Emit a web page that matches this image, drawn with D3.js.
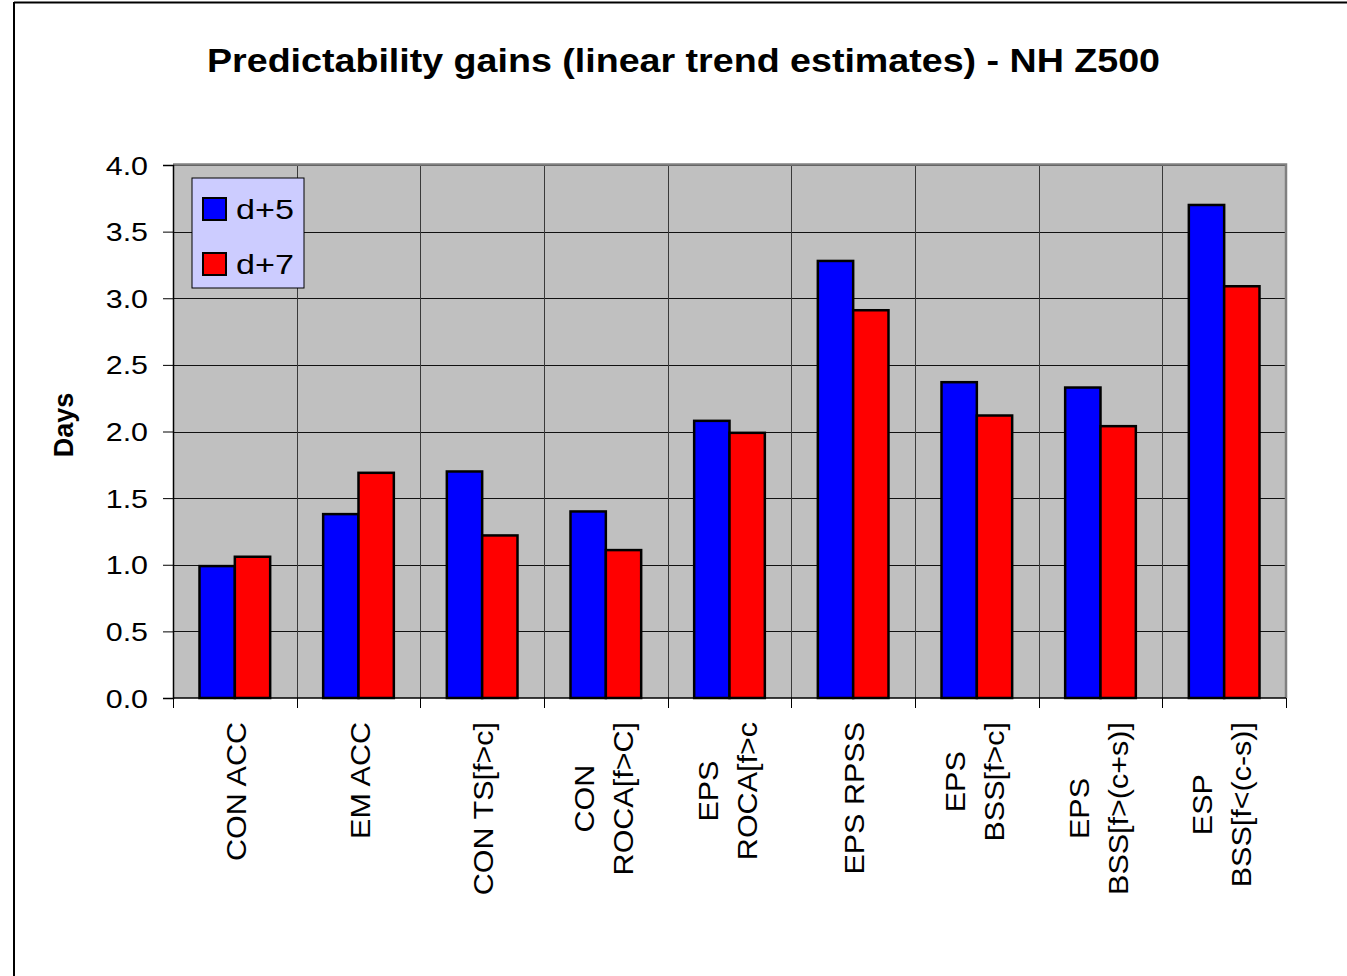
<!DOCTYPE html>
<html>
<head>
<meta charset="utf-8">
<script src="https://cdn.jsdelivr.net/npm/d3@7"></script>
<style>
  body { margin: 0; background: #fff; }
  text { font-family: "Liberation Sans", Arial, sans-serif; }
</style>
</head>
<body>
<div class="chart_wrapper"></div>
<script>
// chart values
var categories = [
  ['CON ACC'],
  ['EM ACC'],
  ['CON TS[f>c]'],
  ['CON', 'ROCA[f>C]'],
  ['EPS', 'ROCA[f>c'],
  ['EPS RPSS'],
  ['EPS', 'BSS[f>c]'],
  ['EPS', 'BSS[f>(c+s)]'],
  ['ESP', 'BSS[f<(c-s)]']
];
var seriesNames = ['d+5', 'd+7'];
var d5 = [0.99, 1.38, 1.70, 1.40, 2.08, 3.28, 2.37, 2.33, 3.70];
var d7 = [1.06, 1.69, 1.22, 1.11, 1.99, 2.91, 2.12, 2.04, 3.09];
var yTicks = [0, 0.5, 1, 1.5, 2, 2.5, 3, 3.5, 4];

var width = 1347;
var height = 976;
var plot = { left: 173, right: 1286, top: 165, bottom: 698 };
var colors = ['#0000ff', '#ff0000'];

var svg = d3.select('.chart_wrapper').append('svg')
  .attr('width', width).attr('height', height);

// outer frame (left + top edges visible)
svg.append('line').attr('x1', 14).attr('x2', 14).attr('y1', 2).attr('y2', height)
  .attr('stroke', '#000').attr('stroke-width', 2);
svg.append('line').attr('x1', 14).attr('x2', width).attr('y1', 2.5).attr('y2', 2.5)
  .attr('stroke', '#000').attr('stroke-width', 2);

svg.append('text')
  .attr('x', 683.5).attr('y', 72)
  .attr('text-anchor', 'middle')
  .attr('font-size', 34).attr('font-weight', 'bold')
  .attr('textLength', 953).attr('lengthAdjust', 'spacingAndGlyphs')
  .text('Predictability gains (linear trend estimates) - NH Z500');

var x = d3.scaleBand().domain(d3.range(categories.length))
  .range([plot.left, plot.right]).padding(0);
var xs = d3.scaleBand().domain(d3.range(seriesNames.length))
  .range([0, x.bandwidth()]).paddingInner(0).paddingOuter(0.75);
var y = d3.scaleLinear().domain([0, 4]).range([plot.bottom, plot.top]);

// plot background
svg.append('rect')
  .attr('x', plot.left).attr('y', plot.top)
  .attr('width', plot.right - plot.left).attr('height', plot.bottom - plot.top)
  .attr('fill', '#c0c0c0');

// gridlines
svg.append('g').selectAll('line').data(yTicks.slice(1)).enter().append('line')
  .attr('x1', plot.left).attr('x2', plot.right)
  .attr('y1', function (d) { return Math.round(y(d)) + 0.5; })
  .attr('y2', function (d) { return Math.round(y(d)) + 0.5; })
  .attr('stroke', '#111').attr('stroke-width', 1);
svg.append('g').selectAll('line').data(d3.range(1, categories.length)).enter().append('line')
  .attr('x1', function (d) { return Math.round(x(d)) + 0.5; })
  .attr('x2', function (d) { return Math.round(x(d)) + 0.5; })
  .attr('y1', plot.top).attr('y2', plot.bottom)
  .attr('stroke', '#3a3a3a').attr('stroke-width', 1);

// plot border top/right
svg.append('path')
  .attr('d', 'M' + plot.left + ',' + (plot.top - 0.5) + 'H' + (plot.right) + 'V' + plot.bottom)
  .attr('fill', 'none').attr('stroke', '#808080').attr('stroke-width', 2.5);

// bars
var series = [d5, d7];
var groups = svg.append('g').selectAll('g').data(categories).enter().append('g')
  .attr('transform', function (d, i) { return 'translate(' + x(i) + ',0)'; });
groups.selectAll('rect').data(function (d, i) {
  return series.map(function (s, k) { return { k: k, v: s[i] }; });
}).enter().append('rect')
  .attr('x', function (d) { return xs(d.k); })
  .attr('width', xs.bandwidth())
  .attr('y', function (d) { return y(d.v); })
  .attr('height', function (d) { return y(0) - y(d.v); })
  .attr('fill', function (d) { return colors[d.k]; })
  .attr('stroke', '#000').attr('stroke-width', 2.5);

// y axis
var yAxis = svg.append('g').attr('transform', 'translate(' + plot.left + ',0)')
  .call(d3.axisLeft(y).tickValues(yTicks).tickFormat(d3.format('.1f')).tickSize(10).tickPadding(0));
yAxis.select('.domain').attr('stroke', '#000').attr('stroke-width', 1.5);
yAxis.selectAll('.tick line').attr('stroke', '#000').attr('stroke-width', 1);
yAxis.selectAll('.tick text').remove();
yAxis.selectAll('.tick').append('text')
  .attr('transform', 'translate(-25,9) scale(1.17,1)')
  .attr('text-anchor', 'end')
  .attr('font-size', 26).attr('fill', '#000')
  .text(function (d) { return d3.format('.1f')(d); });

// x axis
var xAxisG = svg.append('g');
xAxisG.append('line').attr('x1', plot.left).attr('x2', plot.right)
  .attr('y1', plot.bottom).attr('y2', plot.bottom)
  .attr('stroke', '#000').attr('stroke-width', 1.5);
xAxisG.selectAll('.xtick').data(d3.range(categories.length + 1)).enter().append('line')
  .attr('class', 'xtick')
  .attr('x1', function (d) { return Math.round(plot.left + d * x.step()) + 0.5; })
  .attr('x2', function (d) { return Math.round(plot.left + d * x.step()) + 0.5; })
  .attr('y1', plot.bottom).attr('y2', plot.bottom + 10)
  .attr('stroke', '#000').attr('stroke-width', 1);

// category labels, rotated, multi-line centred, block top-anchored
var labelScale = 1.13;
var lineGap = 39;
categories.forEach(function (lines, i) {
  var cx = x(i) + x.bandwidth() / 2;
  var g = svg.append('g');
  var texts = lines.map(function (t) {
    return g.append('text').attr('font-size', 27).attr('text-anchor', 'middle').text(t);
  });
  var maxLen = d3.max(texts, function (t) { return t.node().getComputedTextLength(); }) * labelScale;
  var n = lines.length;
  texts.forEach(function (t, k) {
    var bx = n === 1 ? cx + 11 : cx + 7.5 + (k - (n - 1) / 2) * lineGap;
    var cy = 722 + maxLen / 2;
    t.attr('transform', 'translate(' + bx + ',' + cy + ') rotate(-90) scale(' + labelScale + ',1)');
  });
});

// y axis title
svg.append('text')
  .attr('transform', 'translate(73,425) rotate(-90)')
  .attr('text-anchor', 'middle')
  .attr('font-size', 27).attr('font-weight', 'bold')
  .text('Days');

// legend
var legend = svg.append('g');
legend.append('rect')
  .attr('x', 192).attr('y', 178).attr('width', 112).attr('height', 110)
  .attr('fill', '#ccccff').attr('stroke', '#000').attr('stroke-width', 1);
var item = legend.selectAll('.legend').data(seriesNames).enter().append('g')
  .attr('class', 'legend')
  .attr('transform', function (d, i) { return 'translate(203,' + (198 + i * 55) + ')'; });
item.append('rect')
  .attr('width', 23).attr('height', 22)
  .attr('fill', function (d, i) { return colors[i]; })
  .attr('stroke', '#000').attr('stroke-width', 2);
item.append('text')
  .attr('transform', 'translate(33,21) scale(1.22,1)')
  .attr('font-size', 28).attr('fill', '#000')
  .text(function (d) { return d; });
</script>
</body>
</html>
